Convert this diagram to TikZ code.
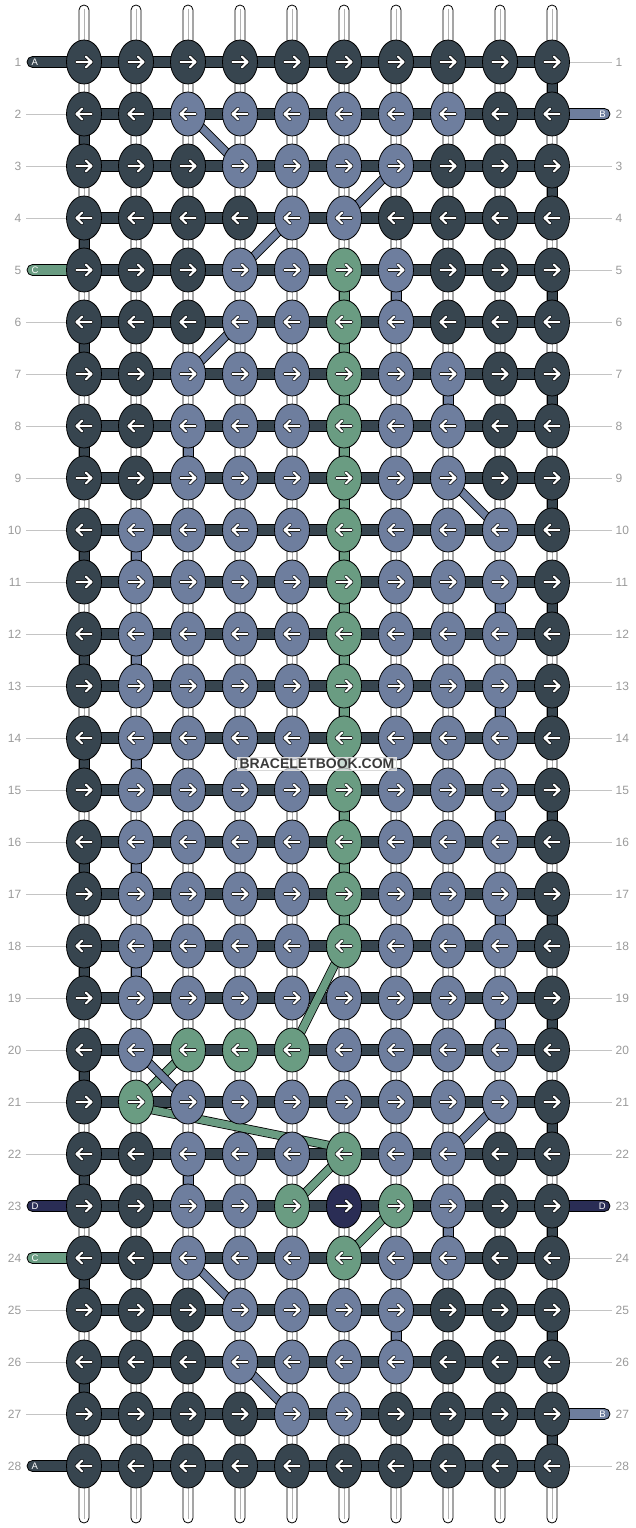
\documentclass[tikz,border=0pt]{standalone}
\usepackage{fontspec}
\setmainfont{Liberation Sans}
\usetikzlibrary{shapes.geometric}
\definecolor{kD}{HTML}{37454F}
\definecolor{kB}{HTML}{6E7E9E}
\definecolor{kG}{HTML}{6A9C82}
\definecolor{kN}{HTML}{2A2D55}
\definecolor{lblgray}{HTML}{9A9A9A}
\definecolor{linegray}{HTML}{C4C4C4}
\definecolor{wmtext}{HTML}{3A3A3A}
\newcommand\oneknot[3]{%
  \node[knot, fill=k#3] (k-#1-#2) at (p-#1-#2) {};
  \ifodd#1\relax\def\kta{-7.5}\def\ktb{7.5}\def\khx{2}\else\def\kta{7.5}\def\ktb{-7.5}\def\khx{-2}\fi
  \begin{scope}[shift={(p-#1-#2)}]
    \draw[arrowout] (\kta,0) -- (\ktb,0) (\khx,-5.3) -- (\ktb,0) -- (\khx,5.3);
    \draw[arrowin] (\kta,0) -- (\ktb,0) (\khx,-5.3) -- (\ktb,0) -- (\khx,5.3);
  \end{scope}}
\newcommand\knotrowA[6]{\oneknot{#1}{1}{#2}\oneknot{#1}{2}{#3}\oneknot{#1}{3}{#4}\oneknot{#1}{4}{#5}\oneknot{#1}{5}{#6}\knotrowB{#1}}
\newcommand\knotrowB[6]{\oneknot{#1}{6}{#2}\oneknot{#1}{7}{#3}\oneknot{#1}{8}{#4}\oneknot{#1}{9}{#5}\oneknot{#1}{10}{#6}}
\newcommand\knotrow[2]{\knotrowA{#1}#2}
\newcommand\diagband[3]{%
  \draw[line width=9pt, black] (#1) -- (#2);
  \draw[line width=7.4pt, #3] (#1) -- (#2);}
\begin{document}
\begin{tikzpicture}[x=1pt,y=-1pt,
  knot/.style={ellipse, draw=black, line width=0.8pt, minimum width=35pt, minimum height=44pt, inner sep=0pt},
  warp/.style={fill=white, draw=black, line width=0.8pt},
  vseg/.style={draw=black, line width=0.8pt},
  hbar/.style={fill=kD, draw=black, line width=0.8pt},
  edgestr/.style={draw=black, line width=0.8pt, rounded corners=5.5pt},
  arrowout/.style={draw=black, line width=3.6pt, line cap=round, line join=round},
  arrowin/.style={draw=white, line width=2.2pt, line cap=round, line join=round},
  rowlbl/.style={text=lblgray, font=\fontsize{12}{12}\selectfont, inner sep=0pt},
  lblline/.style={draw=linegray, line width=0.8pt},
  edgeletter/.style={text=white, font=\fontsize{9.5}{9.5}\selectfont, inner sep=0pt},
  watermark/.style={fill=white, fill opacity=0.65, text opacity=1, text=wmtext, draw=black!15, line width=0.5pt,
     font=\bfseries\fontsize{14}{14}\selectfont, inner xsep=2pt, inner ysep=1.5pt}
]
\useasboundingbox (0,0) rectangle (636,1528);
% knot positions
\foreach \r in {1,...,28}{\foreach \c in {1,...,10}{
  \coordinate (p-\r-\c) at ({84+52*(\c-1)},{62+52*(\r-1)});
}}
% white warp strings
\foreach \c in {1,...,10}{
  \pgfmathsetmacro\x{84+52*(\c-1)}
  \draw[warp, rounded corners=5pt] (\x-5,5) rectangle (\x+5,1523);
  \draw[draw=black!30, line width=0.6pt] (\x,9) -- (\x,1519);
}
% coloured vertical segments
\foreach \r/\c/\col in {1/10/kD, 2/1/kD, 3/10/kD, 4/1/kD, 5/6/kG, 5/7/kB, 5/10/kD, 6/1/kD, 6/6/kG,
  7/6/kG, 7/8/kB, 7/10/kD, 8/1/kD, 8/3/kB, 8/6/kG, 9/6/kG, 9/10/kD, 10/1/kD, 10/2/kB, 10/6/kG,
  11/6/kG, 11/9/kB, 11/10/kD, 12/1/kD, 12/2/kB, 12/6/kG, 13/6/kG, 13/9/kB, 13/10/kD,
  14/1/kD, 14/2/kB, 14/6/kG, 15/6/kG, 15/9/kB, 15/10/kD, 16/1/kD, 16/2/kB, 16/6/kG,
  17/6/kG, 17/9/kB, 17/10/kD, 18/1/kD, 18/2/kB, 19/9/kB, 19/10/kD, 20/1/kD, 21/10/kD,
  22/1/kD, 22/3/kB, 23/8/kB, 23/10/kD, 24/1/kD, 25/7/kB, 25/10/kD, 26/1/kD, 27/10/kD}{
  \pgfmathtruncatemacro\rn{\r+1}
  \draw[vseg, fill=\col] ([xshift=-5pt]p-\r-\c) rectangle ([xshift=5pt]p-\rn-\c);
}
% edge strings
\foreach \r/\col/\lab in {1/kD/A, 5/kG/C, 23/kN/D, 24/kG/C, 28/kD/A}{
  \pgfmathsetmacro\y{62+52*(\r-1)}
  \draw[edgestr, fill=\col] (27,\y-5.5) rectangle (95,\y+5.5);
  \node[edgeletter, anchor=west] (el-\r) at (31.5,\y) {\lab};
}
\foreach \r/\col/\lab in {2/kB/B, 23/kN/D, 27/kB/B}{
  \pgfmathsetmacro\y{62+52*(\r-1)}
  \draw[edgestr, fill=\col] (541,\y-5.5) rectangle (610,\y+5.5);
  \node[edgeletter, anchor=east] (er-\r) at (606,\y) {\lab};
}
% horizontal bars
\foreach \r in {1,...,28}{
  \draw[hbar] ([yshift=-5.5pt]p-\r-1) rectangle ([yshift=5.5pt]p-\r-10);
}
% diagonal strings: green first, blue on top
\diagband{p-18-6}{p-20-5}{kG}
\diagband{p-20-3}{p-21-2}{kG}
\diagband{[yshift=-4.6pt]p-21-2}{[yshift=5.6pt]p-22-6}{kG}
\diagband{p-22-6}{p-23-5}{kG}
\diagband{p-23-7}{p-24-6}{kG}
\diagband{p-2-3}{p-3-4}{kB}
\diagband{p-3-7}{p-4-6}{kB}
\diagband{p-4-5}{p-5-4}{kB}
\diagband{p-6-4}{p-7-3}{kB}
\diagband{p-9-8}{p-10-9}{kB}
\diagband{p-20-2}{p-21-3}{kB}
\diagband{p-21-9}{p-22-8}{kB}
\diagband{p-24-3}{p-25-4}{kB}
\diagband{p-26-4}{p-27-5}{kB}
% knots
\knotrow{1}{DDDDDDDDDD}
\knotrow{2}{DDBBBBBBDD}
\knotrow{3}{DDDBBBBDDD}
\knotrow{4}{DDDDBBDDDD}
\knotrow{5}{DDDBBGBDDD}
\knotrow{6}{DDDBBGBDDD}
\knotrow{7}{DDBBBGBBDD}
\knotrow{8}{DDBBBGBBDD}
\knotrow{9}{DDBBBGBBDD}
\knotrow{10}{DBBBBGBBBD}
\knotrow{11}{DBBBBGBBBD}
\knotrow{12}{DBBBBGBBBD}
\knotrow{13}{DBBBBGBBBD}
\knotrow{14}{DBBBBGBBBD}
\knotrow{15}{DBBBBGBBBD}
\knotrow{16}{DBBBBGBBBD}
\knotrow{17}{DBBBBGBBBD}
\knotrow{18}{DBBBBGBBBD}
\knotrow{19}{DBBBBBBBBD}
\knotrow{20}{DBGGGBBBBD}
\knotrow{21}{DGBBBBBBBD}
\knotrow{22}{DDBBBGBBDD}
\knotrow{23}{DDBBGNGBDD}
\knotrow{24}{DDBBBGBBDD}
\knotrow{25}{DDDBBBBDDD}
\knotrow{26}{DDDBBBBDDD}
\knotrow{27}{DDDDBBDDDD}
\knotrow{28}{DDDDDDDDDD}
% label lines
\foreach \r in {2,3,4,6,7,8,9,10,11,12,13,14,15,16,17,18,19,20,21,22,25,26,27}{
  \pgfmathsetmacro\y{62+52*(\r-1)}
  \coordinate (ll-\r) at (26,\y);
  \draw[lblline] (ll-\r) -- (k-\r-1.west);
}
\foreach \r in {1,3,4,5,6,7,8,9,10,11,12,13,14,15,16,17,18,19,20,21,22,24,25,26,28}{
  \pgfmathsetmacro\y{62+52*(\r-1)}
  \coordinate (lr-\r) at (612,\y);
  \draw[lblline] (k-\r-10.east) -- (lr-\r);
}
% row numbers
\foreach \r in {1,...,28}{
  \pgfmathsetmacro\y{62+52*(\r-1)}
  \node[rowlbl, anchor=east] (nl-\r) at (21.5,\y) {\r};
  \node[rowlbl, anchor=west] (nr-\r) at (615.5,\y) {\r};
}
% watermark
\node[watermark] (wm) at (317,764) {BRACELETBOOK.COM};
\end{tikzpicture}
\end{document}
